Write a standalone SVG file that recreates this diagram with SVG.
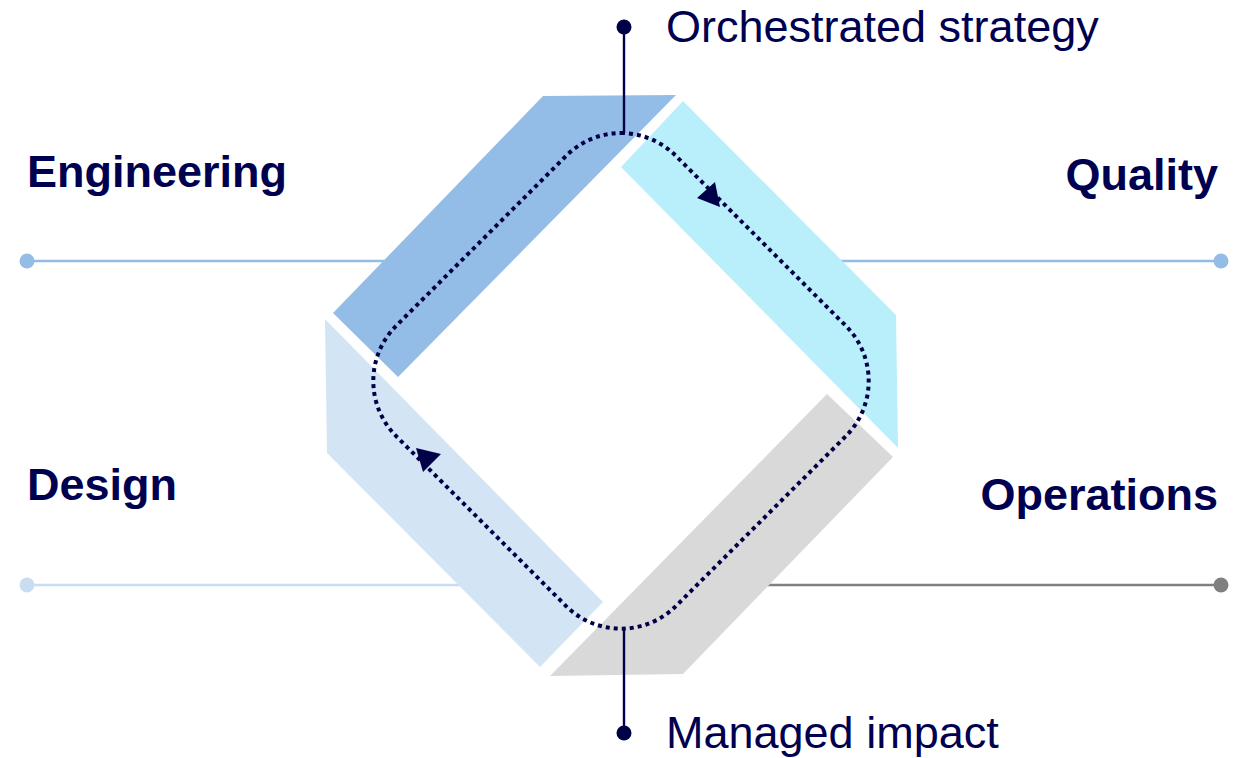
<svg xmlns="http://www.w3.org/2000/svg" width="1238" height="758" viewBox="0 0 1238 758">
  <style>
    .lbl { font-family: "Liberation Sans", Arial, sans-serif; font-size: 45px; font-weight: bold; fill: #000050; }
    .cap { font-family: "Liberation Sans", Arial, sans-serif; font-size: 45px; fill: #000050; }
    .hline { stroke-width: 2.5; fill: none; }
    .loop { fill: none; stroke: #000048; stroke-width: 4; stroke-dasharray: 4 4; }
    .stem { stroke: #000048; stroke-width: 2.4; fill: none; }
    .head { fill: #000048; }
  </style>
  <rect width="1238" height="758" fill="#ffffff"/>

  <g id="connectors">
    <line class="hline" x1="27" y1="261" x2="400" y2="261" stroke="#93BCE6"/>
    <circle cx="27" cy="261" r="7.5" fill="#93BCE6"/>
    <line class="hline" x1="830" y1="261" x2="1221" y2="261" stroke="#93BCE6"/>
    <circle cx="1221" cy="261" r="7.5" fill="#93BCE6"/>
    <line class="hline" x1="27" y1="585" x2="475" y2="585" stroke="#C9DDF2"/>
    <circle cx="27" cy="585" r="7.5" fill="#C9DDF2"/>
    <line class="hline" x1="755" y1="585" x2="1221" y2="585" stroke="#808080"/>
    <circle cx="1221" cy="585" r="7.5" fill="#808080"/>
  </g>

  <g id="engineering">
    <polygon points="543,96 676,95 398,377 333,313" fill="#93BCE6"/>
    <text class="lbl" x="27" y="187">Engineering</text>
  </g>
  <g id="quality">
    <polygon points="683,101 896,315 898,448 621,167" fill="#B9EFFB"/>
    <text class="lbl" x="1218" y="190" text-anchor="end">Quality</text>
  </g>
  <g id="operations">
    <polygon points="827,394 893,457 683,674 550,676" fill="#D9D9D9"/>
    <text class="lbl" x="1218" y="510" text-anchor="end">Operations</text>
  </g>
  <g id="design">
    <polygon points="325,319 603,602 540,667 327,453" fill="#D3E4F5"/>
    <text class="lbl" x="27" y="500">Design</text>
  </g>

  <g id="cycle">
    <path class="loop" d="M 621,133 A 78,78 0 0 1 676.2,156.2 L 845.8,325.8 A 78,78 0 0 1 845.8,436.2 L 676.2,605.8 A 78,78 0 0 1 565.8,605.8 L 396.2,436.2 A 78,78 0 0 1 396.2,325.8 L 565.8,156.2 A 78,78 0 0 1 621,133 Z"/>
    <polygon class="head" points="720,207 697,198 715,182"/>
    <polygon class="head" points="416,448 423,472 441,454"/>
  </g>

  <g id="strategy">
    <line class="stem" x1="624" y1="27" x2="624" y2="133"/>
    <circle cx="624" cy="27" r="7.5" fill="#000048"/>
    <text class="cap" x="666" y="42">Orchestrated strategy</text>
  </g>
  <g id="impact">
    <line class="stem" x1="624" y1="629" x2="624" y2="733"/>
    <circle cx="624" cy="733" r="7.5" fill="#000048"/>
    <text class="cap" x="666" y="748">Managed impact</text>
  </g>
</svg>
